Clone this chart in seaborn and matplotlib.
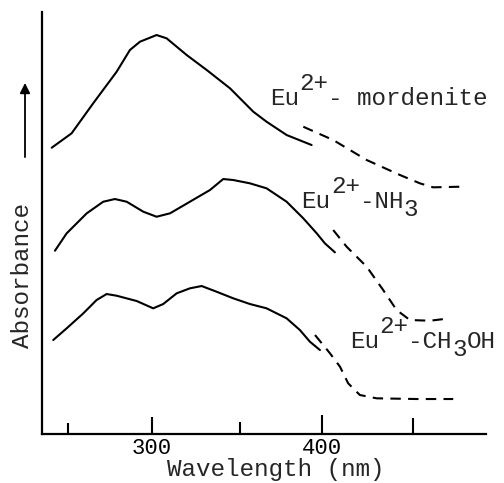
import numpy as np
import pandas as pd
import matplotlib
matplotlib.use("Agg")
import matplotlib.pyplot as plt
import seaborn as sns

# ---- data (wavelength nm, absorbance arbitrary units) ----
mord_solid_x = [241.2, 252.9, 265.6, 279.4, 287.2, 293.1, 302.9, 308.8, 320.6, 332.4, 346.1, 359.8, 367.6, 379.4, 394.1]
mord_solid_y = [286.3, 300.7, 330.7, 362.3, 384.0, 392.3, 399.0, 395.7, 379.0, 364.0, 345.7, 322.3, 312.3, 299.0, 289.0]
mord_dash_x = [389.2, 406.8, 426.5, 446.1, 457.8, 465.6, 481.4]
mord_dash_y = [307.3, 294.0, 274.0, 259.0, 250.7, 246.7, 247.3]

nh3_solid_x = [243.1, 250.0, 261.8, 271.5, 278.4, 285.3, 295.1, 302.9, 310.8, 322.5, 334.3, 342.1, 348.0, 357.8, 367.6, 379.4, 389.2, 397.1, 401.9, 407.8]
nh3_solid_y = [183.3, 200.7, 220.7, 232.3, 235.0, 232.3, 222.3, 217.3, 220.7, 232.3, 244.0, 255.0, 254.0, 250.7, 245.7, 232.3, 215.7, 200.7, 190.7, 181.7]
nh3_dash_x = [406.8, 414.7, 426.5, 436.2, 444.1, 451.9, 463.7, 475.5]
nh3_dash_y = [204.0, 187.3, 167.3, 144.0, 124.0, 114.0, 113.3, 115.7]

meoh_solid_x = [242.1, 250.0, 259.8, 267.6, 273.5, 279.4, 291.2, 300.9, 306.8, 314.7, 322.5, 329.4, 338.2, 348.0, 357.8, 367.6, 379.4, 387.2, 393.1, 399.0]
meoh_solid_y = [94.0, 105.7, 120.7, 134.0, 140.0, 138.3, 133.0, 125.7, 130.0, 140.7, 145.7, 148.0, 142.3, 135.7, 130.0, 125.7, 115.7, 104.0, 92.3, 84.0]
meoh_dash_x = [396.1, 404.9, 410.8, 415.6, 422.5, 432.4, 455.9, 477.4]
meoh_dash_y = [99.0, 80.7, 67.3, 50.7, 39.0, 35.7, 35.0, 35.0]

tick_pos = [250.6, 300, 352, 400, 454]
tick_labels = ["", "300", "", "400", ""]

sns.set_style("ticks")
plt.rcParams["font.family"] = ["Liberation Mono", "DejaVu Sans Mono"]

fig = plt.figure(figsize=(5.04, 4.83), dpi=100)
ax = fig.add_axes([0.0827, 0.1014, 0.8813, 0.8737])

segments = [
    (mord_solid_x, mord_solid_y, "-"), (mord_dash_x, mord_dash_y, "--"),
    (nh3_solid_x, nh3_solid_y, "-"), (nh3_dash_x, nh3_dash_y, "--"),
    (meoh_solid_x, meoh_solid_y, "-"), (meoh_dash_x, meoh_dash_y, "--"),
]
for xs, ys, ls in segments:
    df = pd.DataFrame({"wl": xs, "abs": ys})
    sns.lineplot(data=df, x="wl", y="abs", sort=False, ax=ax, color="black",
                 linewidth=1.5, linestyle=ls, estimator=None)
for line in ax.lines:
    if line.get_linestyle() == "--":
        line.set_dashes([5, 3.5])

ax.set_xlim(235.3, 496.6)
ax.set_ylim(0, 422)
ax.set_xlabel("")
ax.set_ylabel("")
ax.set_yticks([])
ax.set_xticks(tick_pos)
ax.set_xticklabels(tick_labels, fontsize=16)
ax.tick_params(axis="x", direction="in", width=1.5, pad=3, colors="black")
lens = [8, 12, 8.6, 13.7, 11.5]
for t, L in zip(ax.xaxis.get_major_ticks(), lens):
    t.tick1line.set_markersize(L)
for s in ["top", "right"]:
    ax.spines[s].set_visible(False)
for s in ["left", "bottom"]:
    ax.spines[s].set_linewidth(1.6)
    ax.spines[s].set_color("black")

fs = 17.5
def draw_label(x, y, parts):
    cw = 0.6 * fs
    off = 0.0
    for s, dy in parts:
        ax.annotate(s, (x, y), xycoords="data", xytext=(off, dy),
                    textcoords="offset points", fontsize=fs, va="baseline",
                    ha="left", annotation_clip=False)
        off += cw * len(s)

draw_label(369.6, 329, [("Eu", 0), ("2+", 11), ("- mordenite", 0)])
draw_label(388.2, 226, [("Eu", 0), ("2+", 11), ("-NH", 0), ("3", -6)])
draw_label(416.6, 86, [("Eu", 0), ("2+", 11), ("-CH", 0), ("3", -6), ("OH", 0)])

fig.text(0.548, 0.014, "Wavelength (nm)", fontsize=17.5, ha="center", va="baseline")
fig.text(0.044, 0.429, "Absorbance", fontsize=17.5, rotation=90, ha="center", va="center")
fig.patches.append(matplotlib.patches.FancyArrowPatch(
    (0.0496, 0.669), (0.0496, 0.834), transform=fig.transFigure,
    arrowstyle="-|>,head_length=4,head_width=2", mutation_scale=1.5,
    color="black", linewidth=1.3))

fig.savefig("out.png", dpi=100)
